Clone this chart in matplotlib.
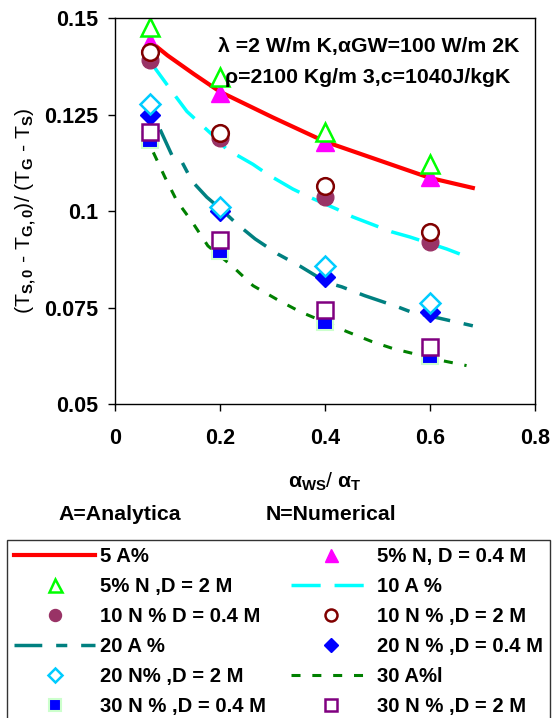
import matplotlib
matplotlib.use("Agg")
import matplotlib.pyplot as plt

plt.rcParams['font.family'] = 'Liberation Sans'
plt.rcParams['font.weight'] = 'bold'
plt.rcParams['mathtext.fontset'] = 'custom'
plt.rcParams['mathtext.rm'] = 'Liberation Sans:bold'
plt.rcParams['mathtext.bf'] = 'Liberation Sans:bold'
plt.rcParams['mathtext.it'] = 'Liberation Sans:bold'
plt.rcParams['mathtext.default'] = 'bf'
plt.rcParams['lines.scale_dashes'] = False

# marker positions (numerical results)
x_pts = [0.067, 0.2, 0.4, 0.6]
n5_04 = [0.1438, 0.1307, 0.1178, 0.1088]
n5_2 = [0.1477, 0.1348, 0.1206, 0.1121]
n10_04 = [0.1392, 0.1190, 0.1036, 0.0920]
n10_2 = [0.1412, 0.1203, 0.1065, 0.0946]
n20_04 = [0.1250, 0.1000, 0.0830, 0.0740]
n20_2 = [0.1276, 0.1010, 0.0858, 0.0763]
n30_04 = [0.1185, 0.0897, 0.0714, 0.0624]
n30_2 = [0.1206, 0.0925, 0.0745, 0.0647]

# analytical curves
a5_x = [0.08, 0.1, 0.15, 0.2, 0.3, 0.4, 0.5, 0.6, 0.682]
a5_y = [0.1425, 0.1403, 0.1355, 0.1309, 0.1243, 0.1180, 0.1133, 0.1086, 0.1060]
a10_x = [0.067, 0.11, 0.137, 0.185, 0.213, 0.263, 0.291, 0.339, 0.371, 0.423,
         0.453, 0.499, 0.528, 0.562, 0.632, 0.657]
a10_y = [0.1387, 0.1307, 0.1258, 0.1198, 0.1160, 0.1121, 0.1095, 0.1057, 0.1036,
         0.1005, 0.0985, 0.0961, 0.0946, 0.0933, 0.0902, 0.0889]
a20_x = [0.086, 0.11, 0.128, 0.147, 0.175, 0.206, 0.232, 0.267, 0.31, 0.352,
         0.404, 0.432, 0.476, 0.537, 0.562, 0.682]
a20_y = [0.1211, 0.1140, 0.1126, 0.1077, 0.1036, 0.1000, 0.0967, 0.0928, 0.0889,
         0.0858, 0.0815, 0.0804, 0.0781, 0.0753, 0.0740, 0.0703]
a30_x = [0.073, 0.095, 0.118, 0.147, 0.177, 0.223, 0.263, 0.309, 0.352, 0.442,
         0.49, 0.53, 0.623, 0.67]
a30_y = [0.1152, 0.1088, 0.1026, 0.0972, 0.0910, 0.0858, 0.0807, 0.0771, 0.0740,
         0.0688, 0.0662, 0.0644, 0.0613, 0.0600]

labels = ["5 A%", "5% N, D = 0.4 M", "5% N ,D = 2 M", "10 A %",
          "10 N % D = 0.4 M", "10 N % ,D = 2 M", "20 A %", "20 N % ,D = 0.4 M",
          "20 N% ,D = 2 M", "30 A%l", "30 N % ,D = 0.4 M", "30 N % ,D = 2 M"]

fs = 15.3
fig = plt.figure(figsize=(5.53, 7.18), dpi=100)
ax = fig.add_axes([0.208, 0.437, 0.759, 0.538])

h = {}
h[0], = ax.plot(a5_x, a5_y, color='#FF0000', lw=3)
h[3], = ax.plot(a10_x, a10_y, color='#00FFFF', lw=2.5, ls=(0, (21, 10)))
h[6], = ax.plot(a20_x, a20_y, color='#008080', lw=2.5, ls=(0, (20, 10, 8, 10)))
h[9], = ax.plot(a30_x, a30_y, color='#008000', lw=2.2, ls=(0, (6.5, 8.5)))

h[1], = ax.plot(x_pts, n5_04, ls='none', marker='^', ms=13, mfc='#FF00FF', mec='#FF00FF')
h[2], = ax.plot(x_pts, n5_2, ls='none', marker='^', ms=13, mfc='white', mec='#00FF00', mew=1.8)
h[4], = ax.plot(x_pts, n10_04, ls='none', marker='o', ms=12, mfc='#993366', mec='#993366')
h[5], = ax.plot(x_pts, n10_2, ls='none', marker='o', ms=12, mfc='white', mec='#800000', mew=1.8)
h[7], = ax.plot(x_pts, n20_04, ls='none', marker='D', ms=10, mfc='#0000FF', mec='#0000FF')
h[8], = ax.plot(x_pts, n20_2, ls='none', marker='D', ms=10, mfc='white', mec='#00CCFF', mew=1.8)
h[10], = ax.plot(x_pts, n30_04, ls='none', marker='s', ms=12, mfc='#0000FF', mec='#CCFFCC', mew=1.5)
h[11], = ax.plot(x_pts, n30_2, ls='none', marker='s', ms=12, mfc='white', mec='#800080', mew=1.8)

ax.set_xlim(0, 0.8)
ax.set_ylim(0.05, 0.15)
ax.set_xticks([0, 0.2, 0.4, 0.6, 0.8])
ax.set_xticklabels(['0', '0.2', '0.4', '0.6', '0.8'])
ax.set_yticks([0.05, 0.075, 0.1, 0.125, 0.15])
ax.set_yticklabels(['0.05', '0.075', '0.1', '0.125', '0.15'])
ax.tick_params(labelsize=15.5, length=5, width=1, color='black')
ax.tick_params(axis='x', pad=12)
ax.tick_params(axis='y', pad=7)
for s in ax.spines.values():
    s.set_linewidth(1)

ax.set_xlabel(r"$\alpha_{WS}$/ $\alpha_T$", fontsize=fs, labelpad=16)
ax.set_ylabel(r"(T$_{S,0}$ - T$_{G,0}$)/ (T$_G$ - T$_S$)", fontsize=fs, labelpad=4)

ax.text(0.245, 0.925, "λ =2 W/m K,αGW=100 W/m 2K", transform=ax.transAxes,
        fontsize=fs, va='center', ha='left')
ax.text(0.262, 0.847, "ρ=2100 Kg/m 3,c=1040J/kgK", transform=ax.transAxes,
        fontsize=fs, va='center', ha='left')

fig.text(58 / 553, 1 - 515 / 718, "A=Analytica", fontsize=fs, va='center', ha='left')
fig.text(266 / 553, 1 - 515 / 718, "N=Numerical", fontsize=fs, va='center', ha='left')

order = [0, 2, 4, 6, 8, 10, 1, 3, 5, 7, 9, 11]
leg = fig.legend([h[i] for i in order], [labels[i] for i in order],
                 loc='upper left', bbox_to_anchor=(7 / 553, 1 - 540 / 718, 543 / 553, 0),
                 mode='expand', ncol=2, fontsize=14.6, frameon=True, fancybox=False,
                 edgecolor='black', handlelength=4.0, handletextpad=0.25,
                 labelspacing=0.54, borderpad=0.36,
                 markerscale=0.72, borderaxespad=0)
leg.get_frame().set_linewidth(1)

fig.savefig("out.png", dpi=100)
